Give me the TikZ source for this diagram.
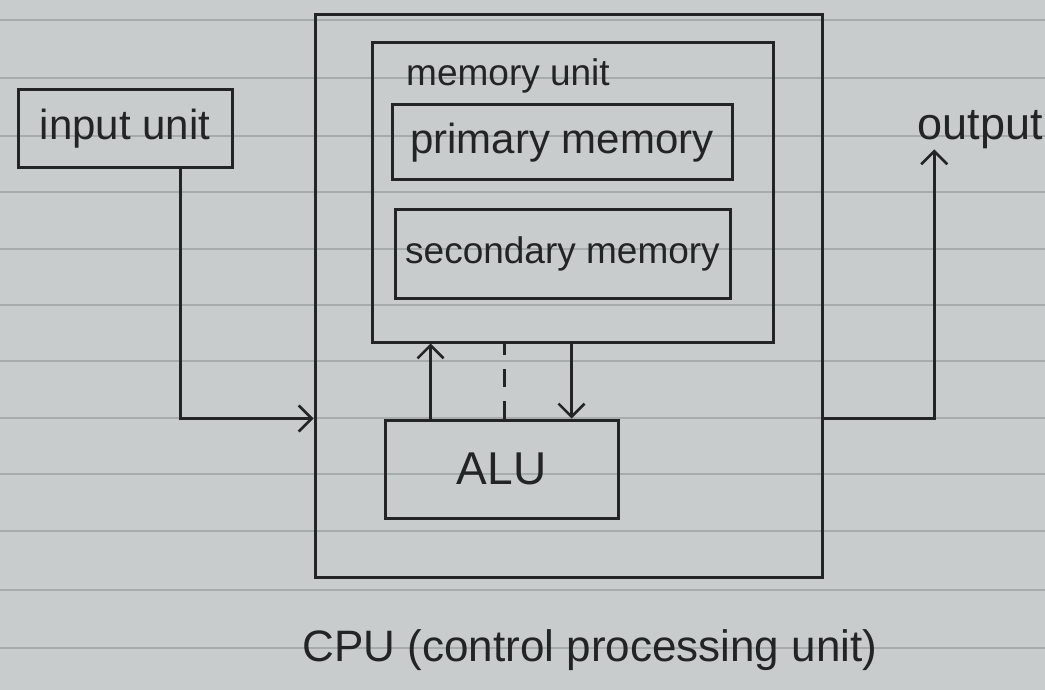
\documentclass[tikz,border=0pt]{standalone}
\usepackage{fontspec}
\setmainfont{Liberation Sans}
\usetikzlibrary{arrows.meta,calc}
\definecolor{paper}{RGB}{200,204,204}
\definecolor{rule}{RGB}{166,171,171}
\definecolor{ink}{RGB}{34,36,38}
\tikzset{
  box/.style={draw=ink, line width=3pt, inner sep=0pt, text=ink},
  hw/.style={text=ink, inner sep=0pt},
  conn/.style={draw=ink, line width=3pt},
  arr/.style={conn, -{Straight Barb[length=13pt,width=26pt,line width=2.6pt]}},
  ruled/.style={draw=rule, line width=2pt}
}
\newcommand{\fs}[1]{\fontsize{#1}{#1}\selectfont}
\begin{document}
\begin{tikzpicture}[x=1pt,y=-1pt]
\fill[paper] (0,0) rectangle (1045,690);
\useasboundingbox (0,0) rectangle (1045,690);
\foreach \yy in {20,78,136,192,249,305,361,418,474,531,590,648}
  \draw[ruled] (0,\yy) -- (1045,\yy);
% boxes
\node[box, minimum width=214pt, minimum height=78pt, font=\fs{42}] (input) at (125,129) {input unit};
\node[box, minimum width=507pt, minimum height=562pt] (cpu) at (568.5,296) {};
\node[box, minimum width=401pt, minimum height=299pt] (mem) at (572.5,192.5) {};
\node[hw, font=\fs{37}] (memlabel) at (508,76) {memory unit};
\node[box, minimum width=340pt, minimum height=75pt, font=\fs{42}] (prim) at (562,142.5) {primary memory};
\node[box, minimum width=335pt, minimum height=88pt, font=\fs{37}] (sec) at (562.5,254) {secondary memory};
\node[box, minimum width=233pt, minimum height=98pt, font=\fs{46}] (alu) at (501.5,469) {ALU};
\node[hw, font=\fs{45}] (output) at (980,130) {output};
\node[hw, font=\fs{44}] (cpulabel) at (590,650) {CPU (control processing unit)};
% connectors
\draw[arr] ([xshift=55pt]input.south) |- (cpu.west |- alu.north);
\draw[arr] (cpu.east |- alu.north) -| ([xshift=17pt]output.south west);
\draw[arr] ([xshift=-71pt]alu.north) -- ([xshift=-71pt]alu.north |- mem.south);
\draw[conn, dash pattern=on 18pt off 14pt] ([xshift=3pt]alu.north) -- ([xshift=3pt]alu.north |- mem.south);
\draw[arr] ([xshift=70pt]alu.north |- mem.south) -- ([xshift=70pt]alu.north);
\end{tikzpicture}
\end{document}
